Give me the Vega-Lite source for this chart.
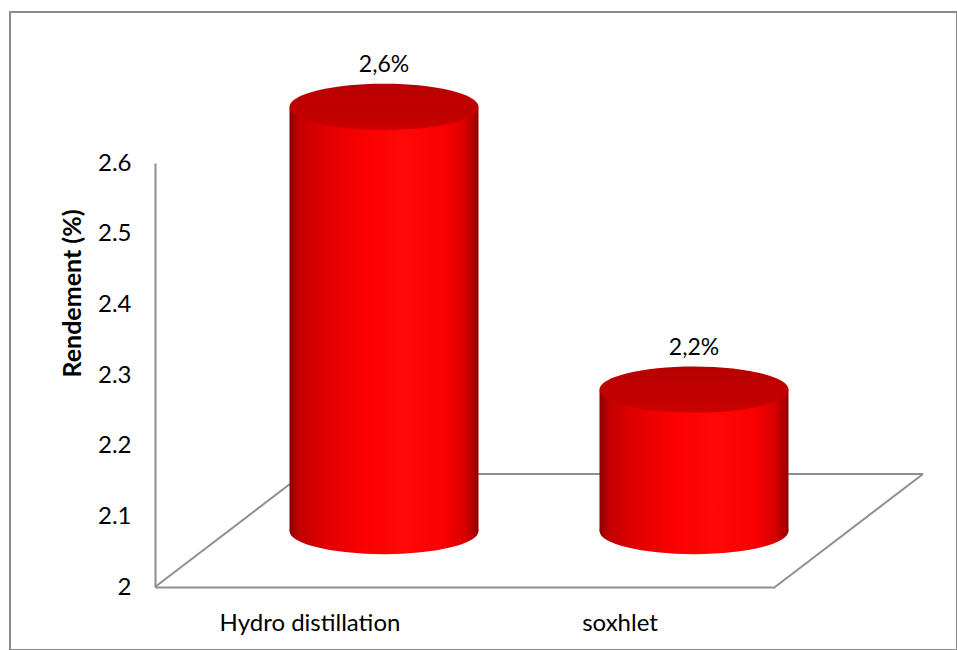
{
  "$schema": "https://vega.github.io/schema/vega-lite/v6.json",
  "width": 947,
  "height": 638,
  "autosize": "none",
  "padding": {"left": 10, "top": 12, "right": 0, "bottom": 0},
  "background": "white",
  "config": {
    "view": {"stroke": "#8c8c8c", "strokeWidth": 2},
    "font": "Lato"
  },
  "data": {
    "values": [
      {"method": "Hydro distillation", "rendement": 2.6, "label": "2,6%"},
      {"method": "soxhlet", "rendement": 2.2, "label": "2,2%"}
    ]
  },
  "layer": [
    {
      "data": {"values": [{}]},
      "mark": {"type": "rule", "color": "#8f8f8f", "strokeWidth": 2, "xOffset": -155, "x2Offset": -7, "y2Offset": -113},
      "encoding": {
        "x": {"datum": "Hydro distillation", "type": "nominal"},
        "x2": {"datum": "Hydro distillation"},
        "y": {"datum": 2, "type": "quantitative"},
        "y2": {"datum": 2}
      }
    },
    {
      "data": {"values": [{}]},
      "mark": {"type": "rule", "color": "#8f8f8f", "strokeWidth": 2, "xOffset": -7, "x2Offset": 303, "yOffset": -113, "y2Offset": -113},
      "encoding": {
        "x": {"datum": "Hydro distillation", "type": "nominal"},
        "x2": {"datum": "soxhlet"},
        "y": {"datum": 2, "type": "quantitative"},
        "y2": {"datum": 2}
      }
    },
    {
      "data": {"values": [{}]},
      "mark": {"type": "rule", "color": "#8f8f8f", "strokeWidth": 2, "xOffset": 155, "x2Offset": 303, "y2Offset": -113},
      "encoding": {
        "x": {"datum": "soxhlet", "type": "nominal"},
        "x2": {"datum": "soxhlet"},
        "y": {"datum": 2, "type": "quantitative"},
        "y2": {"datum": 2}
      }
    },
    {
      "mark": {
        "type": "point",
        "filled": true,
        "opacity": 1,
        "shape": "M -1 0 A 1 0.245 0 1 0 1 0 A 1 0.245 0 1 0 -1 0 Z",
        "size": 35721,
        "strokeWidth": 0,
        "xOffset": 74,
        "yOffset": -56,
        "fill": {
          "gradient": "linear", "x1": 0, "y1": 0, "x2": 1, "y2": 0,
          "stops": [
            {"offset": 0, "color": "#8b0000"},
            {"offset": 0.05, "color": "#c20000"},
            {"offset": 0.18, "color": "#e00000"},
            {"offset": 0.4, "color": "#fb0000"},
            {"offset": 0.6, "color": "#ff0808"},
            {"offset": 0.82, "color": "#fa0000"},
            {"offset": 0.93, "color": "#d80000"},
            {"offset": 1, "color": "#950000"}
          ]
        }
      },
      "encoding": {
        "x": {"field": "method", "type": "nominal"},
        "y": {"datum": 2, "type": "quantitative"}
      }
    },
    {
      "mark": {
        "type": "bar",
        "size": 189,
        "xOffset": 74,
        "yOffset": -56,
        "y2Offset": -56,
        "fill": {
          "gradient": "linear", "x1": 0, "y1": 0, "x2": 1, "y2": 0,
          "stops": [
            {"offset": 0, "color": "#8b0000"},
            {"offset": 0.05, "color": "#c20000"},
            {"offset": 0.18, "color": "#e00000"},
            {"offset": 0.4, "color": "#fb0000"},
            {"offset": 0.6, "color": "#ff0808"},
            {"offset": 0.82, "color": "#fa0000"},
            {"offset": 0.93, "color": "#d80000"},
            {"offset": 1, "color": "#950000"}
          ]
        }
      },
      "encoding": {
        "x": {
          "field": "method",
          "type": "nominal",
          "sort": null,
          "scale": {"domain": ["Hydro distillation", "soxhlet"], "range": [145, 765], "paddingInner": 0, "paddingOuter": 0},
          "axis": {
            "title": null,
            "orient": "bottom",
            "offset": -63,
            "ticks": false,
            "labelAngle": 0,
            "labelAlign": "center",
            "labelBaseline": "top",
            "labelLimit": 400,
            "labelFont": "Lato",
            "labelFontSize": 24,
            "labelColor": "#000000",
            "labelPadding": 24,
            "domainColor": "#8f8f8f",
            "domainWidth": 2,
            "grid": false
          }
        },
        "y": {
          "field": "rendement",
          "type": "quantitative",
          "scale": {"domain": [2, 2.6], "range": [575, 151], "nice": false, "zero": false},
          "axis": {
            "title": "Rendement (%)",
            "orient": "left",
            "offset": -145,
            "values": [2, 2.1, 2.2, 2.3, 2.4, 2.5, 2.6],
            "format": "~g",
            "ticks": false,
            "grid": false,
            "labelFont": "Lato",
            "labelFontSize": 24,
            "labelColor": "#000000",
            "labelPadding": 24,
            "domainColor": "#8f8f8f",
            "domainWidth": 2,
            "titleFont": "Lato",
            "titleFontSize": 25,
            "titleFontWeight": "bold",
            "titleColor": "#000000",
            "titleX": -83,
            "titleY": 281,
            "titleAngle": -90,
            "titleAlign": "center",
            "titleBaseline": "middle"
          }
        },
        "y2": {"datum": 2}
      }
    },
    {
      "mark": {
        "type": "point",
        "filled": true,
        "opacity": 1,
        "shape": "M -1 0 A 1 0.245 0 1 0 1 0 A 1 0.245 0 1 0 -1 0 Z",
        "size": 35721,
        "strokeWidth": 0,
        "xOffset": 74,
        "yOffset": -56,
        "fill": {
          "gradient": "linear", "x1": 0, "y1": 0, "x2": 0, "y2": 1,
          "stops": [
            {"offset": 0, "color": "#b80000"},
            {"offset": 0.7, "color": "#c20000"},
            {"offset": 0.92, "color": "#c80000"},
            {"offset": 1, "color": "#dc0000"}
          ]
        }
      },
      "encoding": {
        "x": {"field": "method", "type": "nominal"},
        "y": {"field": "rendement", "type": "quantitative"}
      }
    },
    {
      "mark": {
        "type": "text",
        "font": "Lato",
        "fontSize": 23,
        "color": "#000000",
        "align": "center",
        "baseline": "middle",
        "xOffset": 74,
        "yOffset": -98
      },
      "encoding": {
        "x": {"field": "method", "type": "nominal"},
        "y": {"field": "rendement", "type": "quantitative"},
        "text": {"field": "label", "type": "nominal"}
      }
    }
  ]
}
